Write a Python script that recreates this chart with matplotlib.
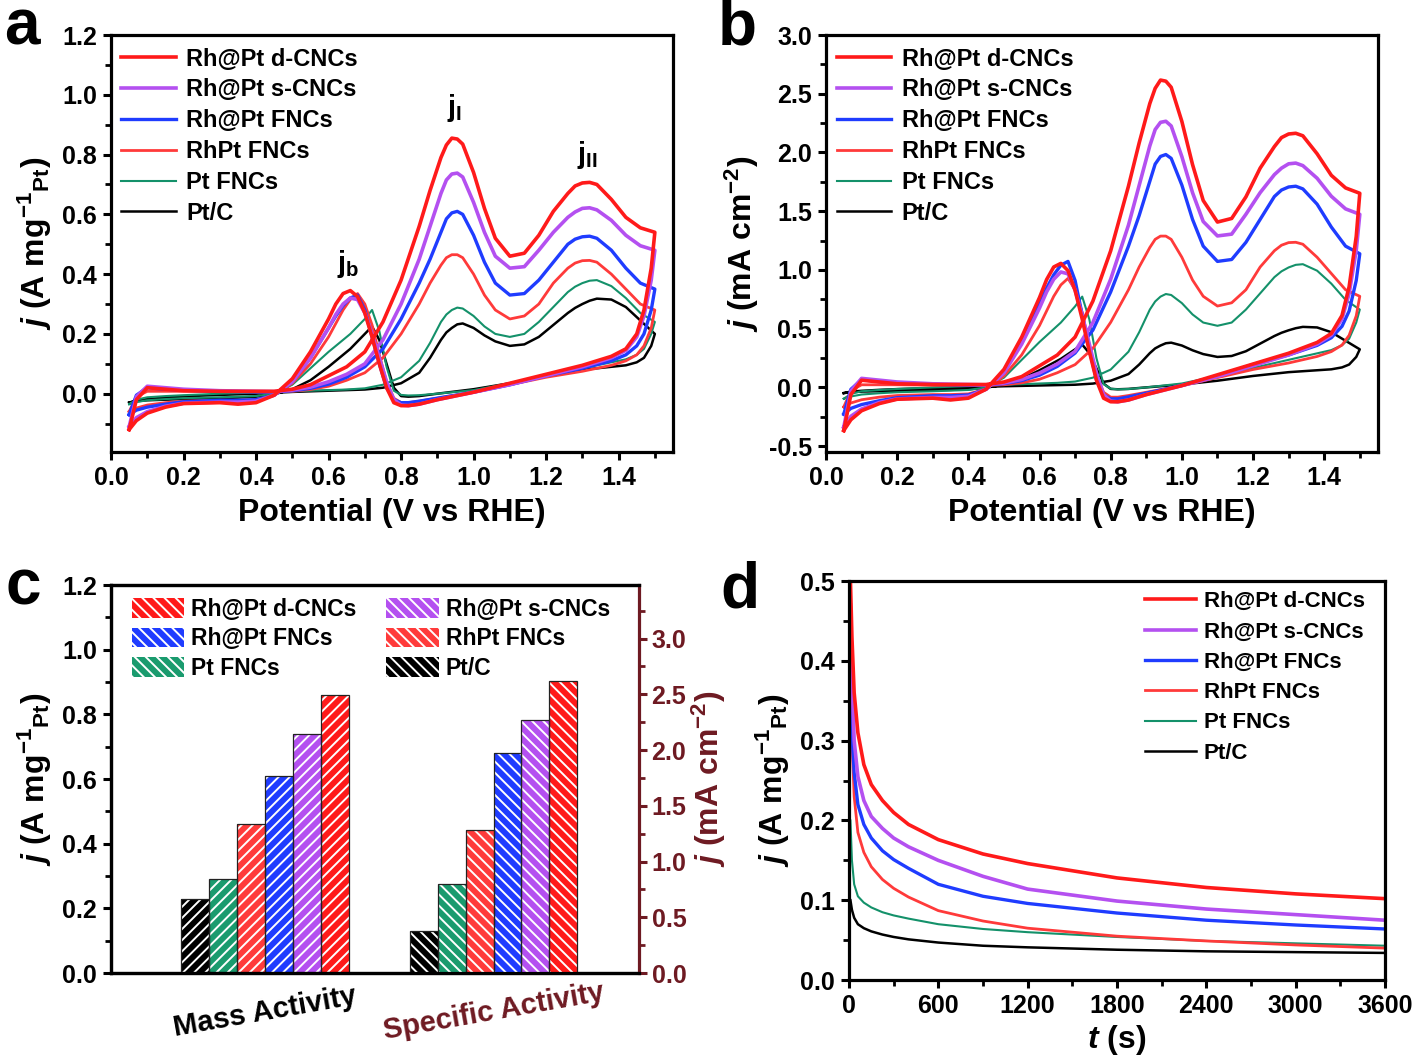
import numpy as np
import matplotlib
matplotlib.use("Agg")
import matplotlib.pyplot as plt
import matplotlib.transforms as mtransforms
from matplotlib.patches import Patch
from matplotlib.ticker import MultipleLocator, FormatStrFormatter, NullLocator

plt.rcParams["font.family"] = ["Liberation Sans", "DejaVu Sans"]
plt.rcParams["font.weight"] = "bold"
plt.rcParams["axes.labelweight"] = "bold"
plt.rcParams["mathtext.fontset"] = "custom"
plt.rcParams["mathtext.rm"] = "Liberation Sans:bold"
plt.rcParams["mathtext.it"] = "Liberation Sans:bold:italic"
plt.rcParams["mathtext.bf"] = "Liberation Sans:bold"
plt.rcParams["hatch.linewidth"] = 1.4

# --- samples ---
LABELS = ["Rh@Pt d-CNCs", "Rh@Pt s-CNCs", "Rh@Pt FNCs", "RhPt FNCs", "Pt FNCs", "Pt/C"]
COLORS = ["#ff1a1a", "#b450f0", "#1f3cff", "#ff3a3a", "#14916a", "#000000"]
LWIDTHS = [2.6, 2.6, 2.4, 2.0, 1.5, 1.8]

# --- CV potentials (V vs RHE) ---
E_FWD = [0.05, 0.07, 0.10, 0.15, 0.20, 0.30, 0.40, 0.45, 0.50, 0.55, 0.60, 0.65,
         0.70, 0.75, 0.80, 0.85, 0.88, 0.91, 0.925, 0.94, 0.955, 0.97, 1.00, 1.03,
         1.06, 1.10, 1.14, 1.18, 1.22, 1.26, 1.28, 1.30, 1.32, 1.34, 1.38, 1.42,
         1.46, 1.50]
E_BWD = [1.50, 1.49, 1.47, 1.45, 1.42, 1.38, 1.30, 1.20, 1.10, 1.00, 0.90, 0.85,
         0.82, 0.80, 0.78, 0.76, 0.74, 0.72, 0.70, 0.68, 0.66, 0.64, 0.62, 0.60,
         0.55, 0.50, 0.45, 0.40, 0.35, 0.30, 0.20, 0.15, 0.10, 0.07, 0.05]

# mass activity CV, forward scan (A mg-1 Pt)
FWD_D = [-0.12, -0.02, 0.02, 0.015, 0.01, 0.008, 0.008, 0.008, 0.015, 0.03, 0.06, 0.09,
         0.14, 0.24, 0.38, 0.56, 0.68, 0.79, 0.832, 0.855, 0.852, 0.835, 0.74, 0.62,
         0.52, 0.46, 0.47, 0.53, 0.61, 0.67, 0.695, 0.705, 0.707, 0.70, 0.65, 0.59,
         0.555, 0.54]
FWD_S = [-0.11, -0.01, 0.025, 0.02, 0.015, 0.01, 0.008, 0.007, 0.012, 0.022, 0.04, 0.065,
         0.10, 0.18, 0.30, 0.45, 0.56, 0.67, 0.715, 0.735, 0.738, 0.725, 0.64, 0.54,
         0.46, 0.42, 0.425, 0.48, 0.54, 0.59, 0.608, 0.62, 0.622, 0.615, 0.58, 0.53,
         0.495, 0.48]
FWD_F = [-0.07, -0.005, 0.02, 0.015, 0.012, 0.008, 0.006, 0.006, 0.01, 0.018, 0.032, 0.055,
         0.09, 0.15, 0.25, 0.37, 0.45, 0.54, 0.585, 0.605, 0.61, 0.60, 0.53, 0.44,
         0.37, 0.33, 0.335, 0.38, 0.44, 0.50, 0.517, 0.525, 0.527, 0.52, 0.48, 0.42,
         0.37, 0.35]
FWD_R = [-0.06, -0.01, 0.008, 0.008, 0.008, 0.007, 0.006, 0.006, 0.008, 0.014, 0.025, 0.045,
         0.07, 0.12, 0.20, 0.30, 0.37, 0.43, 0.455, 0.465, 0.465, 0.455, 0.40, 0.33,
         0.28, 0.25, 0.26, 0.30, 0.37, 0.42, 0.437, 0.445, 0.446, 0.44, 0.40, 0.35,
         0.30, 0.28]
FWD_P = [-0.035, -0.02, -0.012, -0.008, -0.005, 0.0, 0.004, 0.006, 0.008, 0.01, 0.012, 0.014,
         0.018, 0.03, 0.055, 0.11, 0.17, 0.24, 0.265, 0.28, 0.288, 0.285, 0.26, 0.225,
         0.20, 0.19, 0.20, 0.24, 0.29, 0.34, 0.358, 0.37, 0.378, 0.38, 0.36, 0.32,
         0.27, 0.24]
FWD_C = [-0.03, -0.022, -0.018, -0.013, -0.009, -0.004, 0.0, 0.003, 0.006, 0.008, 0.01, 0.012,
         0.014, 0.02, 0.035, 0.07, 0.12, 0.18, 0.205, 0.22, 0.232, 0.235, 0.22, 0.195,
         0.175, 0.16, 0.165, 0.19, 0.23, 0.27, 0.287, 0.30, 0.311, 0.318, 0.315, 0.29,
         0.245, 0.20]

# mass activity CV, backward scan (A mg-1 Pt)
BWD_D = [0.54, 0.42, 0.28, 0.20, 0.15, 0.125, 0.095, 0.065, 0.035, 0.005, -0.02, -0.035,
         -0.04, -0.04, -0.03, 0.02, 0.10, 0.19, 0.27, 0.325, 0.345, 0.335, 0.30, 0.25,
         0.14, 0.05, -0.005, -0.03, -0.035, -0.03, -0.033, -0.045, -0.065, -0.09, -0.12]
BWD_S = [0.48, 0.38, 0.26, 0.19, 0.145, 0.12, 0.09, 0.06, 0.03, 0.005, -0.02, -0.035,
         -0.04, -0.038, -0.02, 0.04, 0.12, 0.20, 0.27, 0.315, 0.32, 0.30, 0.265, 0.22,
         0.12, 0.04, -0.005, -0.025, -0.028, -0.028, -0.032, -0.042, -0.06, -0.08, -0.11]
BWD_F = [0.35, 0.28, 0.20, 0.16, 0.13, 0.11, 0.085, 0.06, 0.03, 0.005, -0.015, -0.025,
         -0.03, -0.03, -0.02, 0.02, 0.10, 0.19, 0.28, 0.33, 0.32, 0.295, 0.26, 0.22,
         0.12, 0.04, -0.005, -0.02, -0.022, -0.022, -0.027, -0.035, -0.045, -0.055, -0.07]
BWD_R = [0.28, 0.22, 0.16, 0.13, 0.11, 0.095, 0.075, 0.055, 0.03, 0.005, -0.015, -0.025,
         -0.03, -0.03, -0.015, 0.04, 0.13, 0.23, 0.30, 0.335, 0.315, 0.28, 0.235, 0.19,
         0.10, 0.035, -0.005, -0.02, -0.022, -0.022, -0.025, -0.03, -0.038, -0.048, -0.06]
BWD_P = [0.24, 0.20, 0.15, 0.13, 0.115, 0.105, 0.085, 0.06, 0.035, 0.012, 0.0, -0.005,
         -0.006, -0.004, 0.01, 0.09, 0.21, 0.28, 0.25, 0.225, 0.20, 0.18, 0.16, 0.14,
         0.085, 0.03, 0.0, -0.008, -0.01, -0.012, -0.015, -0.018, -0.022, -0.028, -0.035]
BWD_C = [0.20, 0.16, 0.12, 0.105, 0.095, 0.09, 0.08, 0.06, 0.035, 0.015, 0.0, -0.008,
         -0.01, -0.008, 0.02, 0.10, 0.18, 0.225, 0.20, 0.175, 0.15, 0.13, 0.11, 0.09,
         0.045, 0.015, -0.002, -0.01, -0.013, -0.015, -0.018, -0.02, -0.022, -0.025, -0.03]

CV_FWD = [FWD_D, FWD_S, FWD_F, FWD_R, FWD_P, FWD_C]
CV_BWD = [BWD_D, BWD_S, BWD_F, BWD_R, BWD_P, BWD_C]

# mass -> area normalisation (ratio of panel b to panel a peak currents)
AREA_FACTOR = [3.06, 3.07, 3.25, 2.77, 2.76, 1.62]

# --- bar values (panel c), order Pt/C ... d-CNCs ---
MASS_ACT = [0.23, 0.29, 0.46, 0.61, 0.74, 0.86]
SPEC_ACT = [0.38, 0.80, 1.28, 1.97, 2.27, 2.62]
BAR_COLORS = ["#000000", "#1a9b6e", "#ff3b3b", "#1f3cff", "#b450f0", "#ff1a1a"]

# --- chronoamperometry (panel d) ---
T_CA = [10, 20, 35, 60, 100, 150, 225, 300, 400, 600, 900, 1200, 1800, 2400, 3000, 3600]
CA_D = [0.50, 0.43, 0.36, 0.31, 0.27, 0.245, 0.225, 0.21, 0.195, 0.176, 0.158, 0.146, 0.128, 0.116, 0.108, 0.102]
CA_S = [0.47, 0.38, 0.30, 0.255, 0.225, 0.205, 0.19, 0.178, 0.167, 0.150, 0.130, 0.114, 0.099, 0.089, 0.082, 0.075]
CA_F = [0.38, 0.31, 0.26, 0.22, 0.195, 0.178, 0.162, 0.151, 0.140, 0.120, 0.105, 0.096, 0.084, 0.075, 0.069, 0.064]
CA_R = [0.42, 0.30, 0.23, 0.185, 0.160, 0.142, 0.126, 0.115, 0.104, 0.087, 0.074, 0.065, 0.055, 0.049, 0.044, 0.040]
CA_P = [0.20, 0.15, 0.12, 0.105, 0.097, 0.091, 0.085, 0.081, 0.077, 0.070, 0.064, 0.060, 0.054, 0.049, 0.046, 0.043]
CA_C = [0.10, 0.088, 0.078, 0.070, 0.065, 0.061, 0.057, 0.054, 0.051, 0.047, 0.043, 0.041, 0.038, 0.036, 0.035, 0.034]
CA = [CA_D, CA_S, CA_F, CA_R, CA_P, CA_C]

DARKRED = "#6e1a22"
TICK_FS = 18
LABEL_FS = 23
LEG_FS = 17
YLAB_MASS = r"$j$ (A mg$^{-1}$$_{\rm Pt}$)"


def style(ax, xmaj, xmin, ymaj, ymin):
    for sp in ax.spines.values():
        sp.set_linewidth(2.3)
    ax.xaxis.set_major_locator(MultipleLocator(xmaj))
    ax.xaxis.set_minor_locator(MultipleLocator(xmin))
    ax.yaxis.set_major_locator(MultipleLocator(ymaj))
    ax.yaxis.set_minor_locator(MultipleLocator(ymin))
    ax.tick_params(which="major", direction="out", length=6, width=2.2,
                   labelsize=TICK_FS, top=False, right=False, pad=4)
    ax.tick_params(which="minor", direction="out", length=4, width=2.0,
                   top=False, right=False)


def cv_panel(ax, scale, ylim, ymaj, ymin, ylabel):
    for i in reversed(range(6)):
        e = E_FWD + E_BWD
        j = np.array(CV_FWD[i] + CV_BWD[i]) * scale[i]
        ax.plot(e, j, color=COLORS[i], lw=LWIDTHS[i], label=LABELS[i])
    ax.set_xlim(0, 1.55)
    ax.set_ylim(*ylim)
    style(ax, 0.2, 0.1, ymaj, ymin)
    ax.xaxis.set_major_formatter(FormatStrFormatter("%.1f"))
    ax.yaxis.set_major_formatter(FormatStrFormatter("%.1f"))
    ax.set_xlabel("Potential (V vs RHE)", fontsize=LABEL_FS, labelpad=6)
    ax.set_ylabel(ylabel, fontsize=LABEL_FS, labelpad=6)
    h, l = ax.get_legend_handles_labels()
    ax.legend(h[::-1], l[::-1], loc="upper left", bbox_to_anchor=(-0.015, 1.015),
              frameon=False, fontsize=LEG_FS, handlelength=2.3,
              handletextpad=0.45, labelspacing=0.33, borderaxespad=0.4)


fig = plt.figure(figsize=(14.18, 10.61), dpi=100)

# --- a ---
ax_a = fig.add_axes([0.0783, 0.574, 0.3963, 0.393])
cv_panel(ax_a, [1] * 6, (-0.195, 1.2), 0.2, 0.1, YLAB_MASS)
ax_a.text(0.948, 0.955, r"j$_{\rm I}$", fontsize=21, ha="center", va="center")
ax_a.text(1.314, 0.80, r"j$_{\rm II}$", fontsize=21, ha="center", va="center")
ax_a.text(0.655, 0.435, r"j$_{\rm b}$", fontsize=21, ha="center", va="center")

# --- b ---
ax_b = fig.add_axes([0.5825, 0.574, 0.389, 0.393])
cv_panel(ax_b, AREA_FACTOR, (-0.55, 3.0), 0.5, 0.25, r"$j$ (mA cm$^{-2}$)")

# --- c ---
ax_c = fig.add_axes([0.0783, 0.0829, 0.3724, 0.3657])
ax_c2 = ax_c.twinx()
W = 0.122
offs = (np.arange(6) - 2.5) * W
ax_c.bar(0 + offs, MASS_ACT, width=W, color=BAR_COLORS, edgecolor="white",
         linewidth=0, hatch="///")
ax_c.bar(0 + offs, MASS_ACT, width=W, fill=False, edgecolor="#222222", linewidth=0.9)
ax_c2.bar(1 + offs, SPEC_ACT, width=W, color=BAR_COLORS, edgecolor="white",
          linewidth=0, hatch="\\\\\\")
ax_c2.bar(1 + offs, SPEC_ACT, width=W, fill=False, edgecolor="#222222", linewidth=0.9)
ax_c.set_xlim(-0.674, 1.637)
ax_c.set_ylim(0, 1.2)
ax_c2.set_ylim(0, 3.48)
style(ax_c, 1, 1, 0.2, 0.1)
ax_c.set_xticks([])
ax_c.xaxis.set_minor_locator(NullLocator())
ax_c.spines["right"].set_visible(False)
ax_c.yaxis.set_major_formatter(FormatStrFormatter("%.1f"))
ax_c.set_ylabel(YLAB_MASS, fontsize=LABEL_FS, labelpad=6)
for sp in ax_c2.spines.values():
    sp.set_linewidth(2.3)
ax_c2.spines["right"].set_color(DARKRED)
ax_c2.yaxis.set_major_locator(MultipleLocator(0.5))
ax_c2.yaxis.set_minor_locator(MultipleLocator(0.25))
ax_c2.yaxis.set_major_formatter(FormatStrFormatter("%.1f"))
ax_c2.tick_params(axis="y", which="major", direction="out", length=6, width=2.2,
                  labelsize=TICK_FS, colors=DARKRED, pad=3)
ax_c2.tick_params(axis="y", which="minor", direction="out", length=4, width=2.0,
                  colors=DARKRED)
ax_c2.set_ylabel(r"$j$ (mA cm$^{-2}$)", fontsize=LABEL_FS, color=DARKRED, labelpad=2)
trans = mtransforms.blended_transform_factory(ax_c.transData, ax_c.transAxes)
ax_c.text(0.0, -0.1, "Mass Activity", transform=trans, rotation=10,
          ha="center", va="center", fontsize=21)
ax_c.text(1.0, -0.1, "Specific Activity", transform=trans, rotation=10,
          ha="center", va="center", fontsize=21, color=DARKRED)
leg_order = [0, 2, 4, 1, 3, 5]
leg_colors = ["#ff1a1a", "#b450f0", "#1f3cff", "#ff3b3b", "#1a9b6e", "#000000"]
handles = [Patch(facecolor=leg_colors[k], edgecolor="white", linewidth=0,
                 hatch="\\\\\\") for k in leg_order]
ax_c2.legend(handles, [LABELS[k] for k in leg_order], ncol=2, loc="upper left",
             bbox_to_anchor=(0.0, 1.02), frameon=False, fontsize=16.5,
             handlelength=2.3, handleheight=0.95, handletextpad=0.3,
             labelspacing=0.28, columnspacing=1.3)

# --- d ---
ax_d = fig.add_axes([0.5987, 0.0763, 0.378, 0.376])
for i in reversed(range(6)):
    ax_d.plot(T_CA, CA[i], color=COLORS[i], lw=LWIDTHS[i], label=LABELS[i])
ax_d.set_xlim(0, 3600)
ax_d.set_ylim(0, 0.5)
style(ax_d, 600, 300, 0.1, 0.05)
ax_d.yaxis.set_major_formatter(FormatStrFormatter("%.1f"))
ax_d.set_xlabel(r"$t$ (s)", fontsize=LABEL_FS, labelpad=4)
ax_d.set_ylabel(YLAB_MASS, fontsize=LABEL_FS, labelpad=6)
h, l = ax_d.get_legend_handles_labels()
ax_d.legend(h[::-1], l[::-1], loc="upper right", bbox_to_anchor=(1.0, 1.025),
            frameon=False, fontsize=16, handlelength=2.3, handletextpad=0.35,
            labelspacing=0.42)

# --- panel letters ---
for x, y, s in [(0.003, 0.958, "a"), (0.506, 0.958, "b"), (0.004, 0.43, "c"), (0.508, 0.427, "d")]:
    fig.text(x, y, s, fontsize=46, fontweight="bold", va="baseline")

fig.savefig("out.png", dpi=100)
